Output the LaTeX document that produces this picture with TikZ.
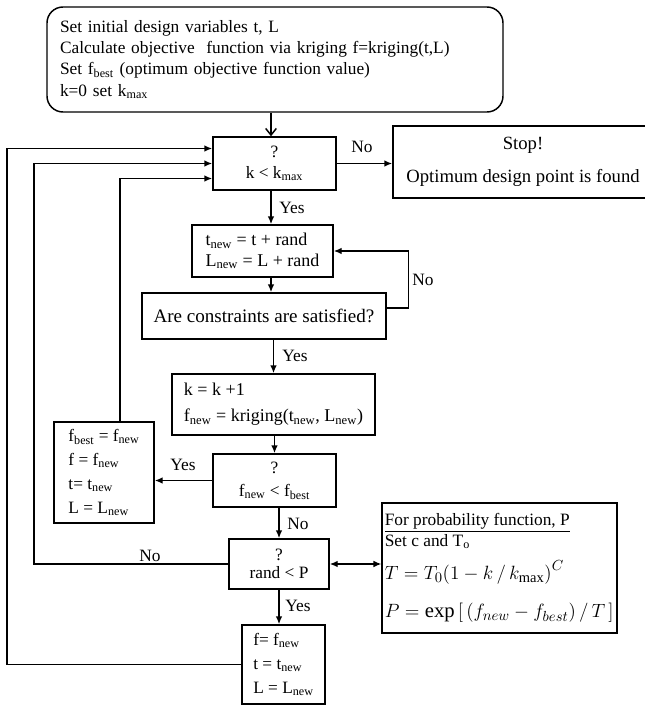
\documentclass[tikz,border=0pt]{standalone}
\usepackage{fontspec}
\setmainfont{Liberation Serif}
\usetikzlibrary{arrows.meta,positioning,calc}
\newcommand{\sbs}[1]{\textsubscript{#1}}
\tikzset{
  blk/.style={draw,rectangle,line width=1.1pt,align=left,inner sep=2pt,font=\fontsize{13}{15.5}\selectfont},
  cblk/.style={blk,align=center},
  rblk/.style={blk,rounded corners=12pt},
  arr/.style={-{Latex[length=6pt,width=5pt]},line width=1.1pt},
  barb/.style={-{Straight Barb[length=5pt,width=8pt]},line width=1.1pt},
  darr/.style={{Latex[length=6pt,width=5pt]}-{Latex[length=6pt,width=5pt]},line width=1.1pt},
  lbl/.style={font=\fontsize{13}{15.5}\selectfont,inner sep=1pt}
}
\begin{document}
\begin{tikzpicture}[x=0.75pt,y=-0.75pt]
  \useasboundingbox (0,0) rectangle (644,706);
  % Start block
  \node[rblk, text width=322.5pt, inner xsep=9.75pt, minimum height=78.75pt, font=\fontsize{13}{16}\selectfont] (init) at (275,59.5)
    {Set initial design variables t, L\\
     Calculate objective\ \ function via kriging f=kriging(t,L)\\
     Set f\sbs{best} (optimum objective function value)\\
     k=0 set k\sbs{max}};

  % Main column
  \node[cblk, minimum width=92.25pt, minimum height=39.75pt] (kchk) at (274.5,163.5) {?\\k < k\sbs{max}};
  \node[cblk, minimum width=195pt, minimum height=54pt, font=\fontsize{14}{16}\selectfont] (stop) at (523,162) {Stop!\\[9pt]Optimum design point is found};
  \node[blk, minimum width=105.75pt, minimum height=39pt, font=\fontsize{13.5}{15.5}\selectfont] (tstep) at (262.5,251) {t\sbs{new} = t + rand\\L\sbs{new} = L + rand};
  \node[cblk, minimum width=183pt, minimum height=34.5pt, font=\fontsize{14.3}{16}\selectfont] (cons) at (264,316) {Are constraints are satisfied?};
  \node[blk, minimum width=152.25pt, minimum height=45.75pt, font=\fontsize{13.5}{15.5}\selectfont] (kinc) at (273.5,404.5) {k = k +1\\[4pt]f\sbs{new} = kriging(t\sbs{new}, L\sbs{new})};
  \node[cblk, minimum width=92.25pt, minimum height=39.75pt] (fchk) at (274.5,480.5) {?\\[2pt]f\sbs{new} < f\sbs{best}};
  \node[blk, minimum width=75pt, minimum height=75.75pt, font=\fontsize{13}{18}\selectfont] (fbest) at (104,472.5)
    {f\sbs{best} = f\sbs{new}\\f = f\sbs{new}\\t= t\sbs{new}\\L = L\sbs{new}};
  \node[cblk, minimum width=75pt, minimum height=37.5pt, font=\fontsize{13}{13.5}\selectfont] (pchk) at (279,564) {?\\rand < P};
  \node[blk, minimum width=62.25pt, minimum height=59.25pt, font=\fontsize{13}{18}\selectfont] (accept) at (283.5,664.5)
    {f= f\sbs{new}\\t = t\sbs{new}\\L = L\sbs{new}};

  % Probability function
  \node[blk, align=flush left, text width=172pt, inner xsep=2pt, minimum height=97.5pt] (prob) at (499.5,568)
    {\underline{For probability function, P}\\
     Set c and T\sbs{o}\\[7pt]
     \fontsize{15.5}{18}\selectfont \mbox{$T = T_0\big(1-k\,/\,k_{\max}\big)^{C}$}\\[13pt]
     \fontsize{15.5}{18}\selectfont \mbox{$P = \exp\Big[\,(f_{new}-f_{best})\,/\,T\,\Big]$}};

  % Rails
  \coordinate (spine) at (271,0);
  \coordinate (outrail) at (7,0);
  \coordinate (midrail) at (34,0);
  \coordinate (innerrail) at (120,0);

  % Forward path
  \draw[barb] (spine |- init.south) -- (spine |- kchk.north);
  \draw[arr] (spine |- kchk.south) -- (spine |- tstep.north);
  \draw[arr] (spine |- tstep.south) -- (spine |- cons.north);
  \draw[arr] (kinc.north |- cons.south) -- (kinc.north);
  \draw[arr] (fchk.north |- kinc.south) -- (fchk.north);
  \draw[arr] (pchk.north |- fchk.south) -- (pchk.north);
  \draw[arr] (pchk.south) -- (pchk.south |- accept.north);
  \draw[arr] (kchk.east) -- (kchk.east -| stop.west);
  \draw[arr] ($(cons.east)+(0,-8)$) -- ++(22,0) |- (tstep.east);
  \draw[arr] (fchk.west) -- (fchk.west -| fbest.east);
  \draw[darr] (pchk.east) -- (pchk.east -| prob.west);

  % Feedback loops
  \draw[arr] (fbest.north -| innerrail) |- ($(kchk.west)+(0,15)$);
  \draw[arr] (pchk.west) -- (pchk.west -| midrail) |- (kchk.west);
  \draw[arr] (accept.west) -- (accept.west -| outrail) |- ($(kchk.west)+(0,-15)$);

  % Labels
  \node[lbl] (nostop) at (362,147) {No};
  \node[lbl] (yesk) at (292,208) {Yes};
  \node[lbl] (nocons) at (423,280) {No};
  \node[lbl] (yescons) at (295,356) {Yes};
  \node[lbl] (yesbest) at (183,465) {Yes};
  \node[lbl] (nobest) at (298,524) {No};
  \node[lbl] (nop) at (150,556) {No};
  \node[lbl] (yesp) at (298,606) {Yes};
\end{tikzpicture}
\end{document}
